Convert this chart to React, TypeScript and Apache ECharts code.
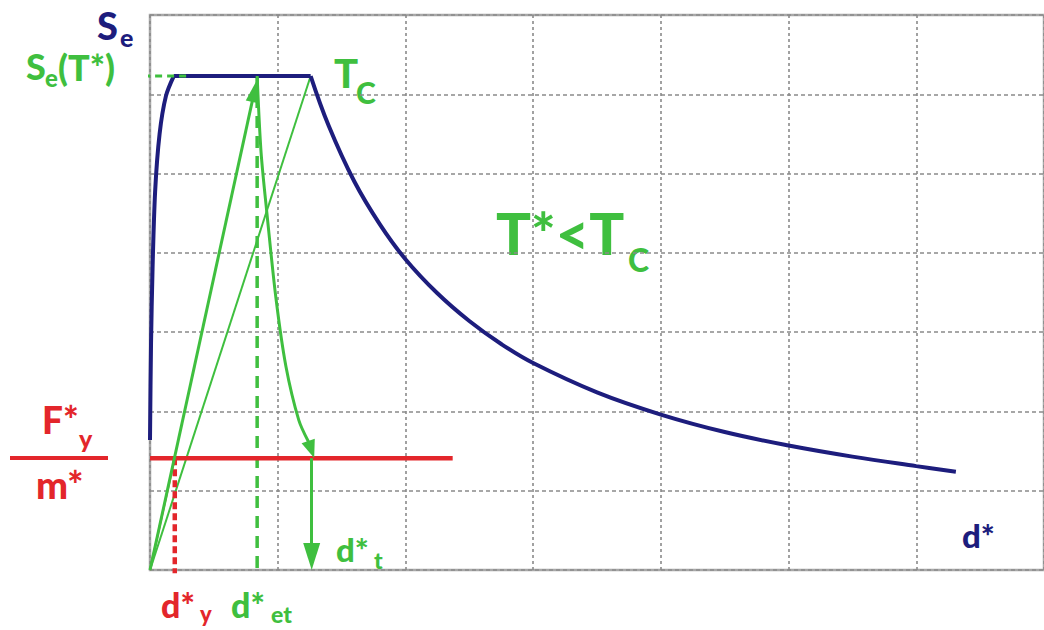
import React, { useEffect, useRef } from "react";
import * as echarts from "echarts";

// ---- data (grid units: x = d*, y = Se) ----
const xTicks = [0, 1, 2, 3, 4, 5, 6, 7];
const yTicks = [0, 1, 2, 3, 4, 5, 6, 7];

const spectrumRise = [[0, 1.64], [0.008, 2.85], [0.02, 3.8], [0.04, 4.77], [0.075, 5.5], [0.125, 5.98], [0.186, 6.23]];
const spectrumPlateau = [[0.186, 6.23], [1.258, 6.23]];
const spectrumDecay = [[1.258, 6.23], [1.4, 5.6], [1.6, 4.9], [1.8, 4.36], [2.0, 3.92], [2.25, 3.49], [2.5, 3.14], [2.75, 2.85], [3.0, 2.61], [3.5, 2.24], [4.0, 1.96], [4.5, 1.74], [5.0, 1.57], [5.5, 1.43], [6.0, 1.31], [6.31, 1.24]];

const fyLine = [[0, 1.41], [2.37, 1.41]];
const elasticBranch = [[0, 0], [0.194, 1.41]];
const dyDrop = [[0.194, 1.41], [0.194, -0.04]];
const tcSecant = [[0, 0], [1.258, 6.23]];
const detDrop = [[0.839, 6.23], [0.839, -0.06]];
const seMarker = [[-0.054, 6.23], [0.31, 6.23]];
const demandCurve = [[0.839, 6.23], [0.87, 5.26], [0.916, 4.49], [0.986, 3.43], [1.064, 2.57], [1.165, 1.89], [1.24, 1.62]];
const elasticArrow = [[0, 0], [0.818, 6.04]];
const curveArrow = [[1.24, 1.62], [1.262, 1.52]];
const dtArrow = [[1.266, 1.41], [1.266, 0.17]];

const NAVY = "#1d1d7d";
const GREEN = "#3fbf3f";
const RED = "#e3262b";
const FONT = "Lato";

function lineSeries(data: number[][], color: string, width: number, type: any = "solid", smooth: any = false, clip = true) {
  return {
    type: "line",
    data,
    smooth,
    symbol: "none",
    clip,
    silent: true,
    lineStyle: { color, width, type, cap: "butt" },
  };
}

function arrowSeries(pts: number[][], color: string, width: number, size: number[]) {
  return {
    type: "line",
    data: [],
    silent: true,
    markLine: {
      silent: true,
      animation: false,
      label: { show: false },
      symbol: ["none", "triangle"],
      lineStyle: { color, width, type: "solid" },
      itemStyle: { color },
      data: [[
        { coord: pts[0], symbol: "none" },
        { coord: pts[1], symbol: "triangle", symbolSize: size },
      ]],
    },
  };
}

function txt(text: string, x: number, y: number, size: number, color: string) {
  return {
    type: "text",
    x,
    y,
    silent: true,
    style: {
      text,
      fill: color,
      fontSize: size,
      fontWeight: 900,
      fontFamily: FONT,
      align: "left",
      verticalAlign: "middle",
    },
  };
}

export default function App() {
  const ref = useRef<HTMLDivElement>(null);
  useEffect(() => {
    document.body.style.margin = "0";
    const chart = echarts.init(ref.current!, null, { renderer: "svg" });
    chart.setOption({
      animation: false,
      backgroundColor: "#ffffff",
      grid: {
        left: 150,
        top: 15,
        bottom: 60,
        right: -8,
        show: true,
        borderColor: "#a8a8a8",
        borderWidth: 2.5,
        backgroundColor: "#ffffff",
      },
      xAxis: {
        type: "value",
        min: xTicks[0],
        max: xTicks[xTicks.length - 1],
        interval: 1,
        axisLine: { show: false },
        axisTick: { show: false },
        axisLabel: { show: false },
        splitLine: { show: true, lineStyle: { color: "#8a8a8a", width: 1.6, type: [3, 3] } },
      },
      yAxis: {
        type: "value",
        min: yTicks[0],
        max: yTicks[yTicks.length - 1],
        interval: 1,
        axisLine: { show: false },
        axisTick: { show: false },
        axisLabel: { show: false },
        splitLine: { show: true, lineStyle: { color: "#8a8a8a", width: 1.6, type: [4, 3] } },
      },
      series: [
        lineSeries(elasticBranch, "#d0582a", 2),
        lineSeries(tcSecant, GREEN, 2),
        lineSeries(detDrop, GREEN, 3.5, [12, 8], false, false),
        lineSeries(dyDrop, RED, 4.5, [7, 4], false, false),
        lineSeries(fyLine, RED, 4.5),
        lineSeries(spectrumRise, NAVY, 4, "solid", 0.3),
        lineSeries(spectrumPlateau, NAVY, 4),
        lineSeries(spectrumDecay, NAVY, 4, "solid", 0.4),
        lineSeries(seMarker, GREEN, 3, [7, 5], false, false),
        lineSeries(demandCurve, GREEN, 3, "solid", 0.3),
        arrowSeries(elasticArrow, GREEN, 3, [13, 22]),
        arrowSeries(curveArrow, GREEN, 3, [14, 18]),
        arrowSeries(dtArrow, GREEN, 3, [17, 27]),
      ],
      graphic: [
        txt("S", 97, 25, 38, NAVY),
        txt("e", 120, 37, 25, NAVY),
        txt("S", 26, 66, 36, GREEN),
        txt("e", 45, 77, 24, GREEN),
        txt("(T*)", 58, 67, 36, GREEN),
        txt("T", 334, 73, 40, GREEN),
        txt("C", 356, 92, 30, GREEN),
        txt("T*<T", 496, 232, 58, GREEN),
        txt("C", 628, 259, 32, GREEN),
        txt("F*", 42, 419, 37, RED),
        txt("y", 79, 438, 25, RED),
        {
          type: "line",
          silent: true,
          shape: { x1: 10, y1: 458, x2: 108, y2: 458 },
          style: { stroke: RED, lineWidth: 4 },
        },
        txt("m*", 36, 484, 38, RED),
        txt("d*", 161, 604, 34, RED),
        txt("y", 200, 613, 22, RED),
        txt("d*", 231, 604, 34, GREEN),
        txt("et", 271, 614, 23, GREEN),
        txt("d*", 336, 549, 33, GREEN),
        txt("t", 374, 560, 23, GREEN),
        txt("d*", 962, 535, 33, NAVY),
      ],
    });
    return () => chart.dispose();
  }, []);
  return (
    <div
      ref={ref}
      style={{ position: "absolute", left: 0, top: 0, width: 1044, height: 630, background: "#fff" }}
    />
  );
}
